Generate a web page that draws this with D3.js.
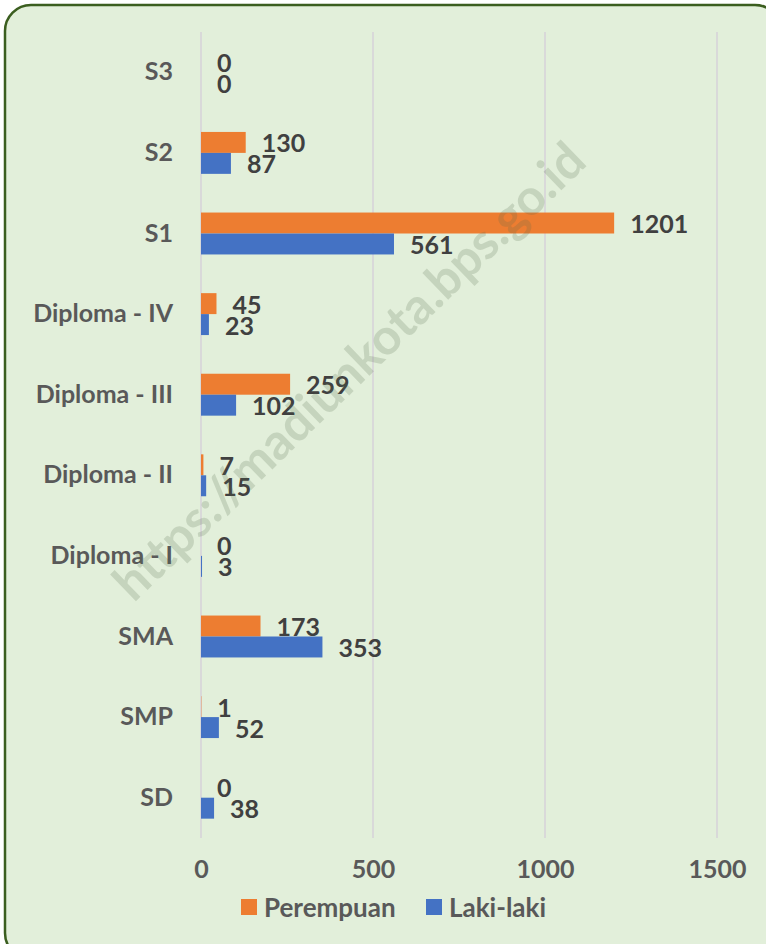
<!DOCTYPE html>
<html>
<head>
<meta charset="utf-8">
<script src="https://cdn.jsdelivr.net/npm/d3@7"></script>
<style>
  body { margin: 0; background: #ffffff; }
  svg { display: block; }
</style>
</head>
<body>
<div id="chart"></div>
<script>
var categories = ["S3", "S2", "S1", "Diploma - IV", "Diploma - III", "Diploma - II", "Diploma - I", "SMA", "SMP", "SD"];
var perempuan = [0, 130, 1201, 45, 259, 7, 0, 173, 1, 0];
var lakiLaki = [0, 87, 561, 23, 102, 15, 3, 353, 52, 38];
var seriesNames = ["Perempuan", "Laki-laki"];
var xTicks = [0, 500, 1000, 1500];

var width = 766, height = 944;
var margin = {top: 32, right: 49, bottom: 106, left: 201};
var plotWidth = width - margin.left - margin.right,
    plotHeight = height - margin.top - margin.bottom;
var colours = ["#ed7d31", "#4472c4"];
var fontFam = "Lato, 'Open Sans', sans-serif";

var svg = d3.select("#chart")
.append("svg")
.attr("width", width)
.attr("height", height);

// background panel
svg.append("rect")
.attr("x", 5)
.attr("y", 5)
.attr("width", width + 10)
.attr("height", height + 10)
.attr("rx", 26)
.attr("fill", "#e2efda")
.attr("stroke", "#3b5e1f")
.attr("stroke-width", 2.5);

var g = svg.append("g")
.attr("transform", "translate(" + margin.left + "," + margin.top + ")");

var x = d3.scaleLinear()
.domain([0, 1500])
.range([0, plotWidth]);

var y = d3.scaleBand()
.domain(categories)
.range([0, plotHeight])
.paddingInner(0.48)
.paddingOuter(0.24);

var ySub = d3.scaleBand()
.domain(seriesNames)
.range([0, y.bandwidth()]);

// gridlines
g.append("g")
.selectAll("line")
.data(xTicks)
.enter()
.append("line")
.attr("x1", function (d) { return x(d); })
.attr("x2", function (d) { return x(d); })
.attr("y1", 0)
.attr("y2", plotHeight)
.attr("stroke", "#d9d9d9")
.attr("stroke-width", 2);

var rows = categories.map(function (c, i) {
    return {cat: c, values: [perempuan[i], lakiLaki[i]]};
});
var pairs = function (d) {
    return d.values.map(function (v, j) { return {name: seriesNames[j], v: v, j: j}; });
};

var groups = g.selectAll(".cat")
.data(rows)
.enter()
.append("g")
.attr("transform", function (d) { return "translate(0," + y(d.cat) + ")"; });

groups.selectAll("rect")
.data(pairs)
.enter()
.append("rect")
.attr("x", x(0))
.attr("y", function (d) { return ySub(d.name); })
.attr("width", function (d) { return x(d.v) - x(0); })
.attr("height", ySub.bandwidth())
.attr("fill", function (d) { return colours[d.j]; });

// watermark sits over the bars
svg.append("text")
.attr("transform", "translate(348,370) rotate(-44)")
.attr("text-anchor", "middle")
.attr("dominant-baseline", "central")
.style("font-family", fontFam)
.style("font-weight", "bold")
.style("font-size", "50px")
.style("fill", "#556b4a")
.style("fill-opacity", 0.2)
.text("https://madiunkota.bps.go.id");

groups.selectAll("text")
.data(pairs)
.enter()
.append("text")
.attr("x", function (d) { return x(d.v) + 16; })
.attr("y", function (d) { return ySub(d.name) + ySub.bandwidth() / 2; })
.attr("dominant-baseline", "central")
.style("font-family", fontFam)
.style("font-weight", "bold")
.style("font-size", "25px")
.style("fill", "#404040")
.text(function (d) { return d.v; });
groups.raise();

// category axis
var yAxis = g.append("g")
.call(d3.axisLeft(y).tickSize(0).tickPadding(28));
yAxis.select(".domain").remove();
yAxis.selectAll("text")
.style("font-family", fontFam)
.style("font-weight", "bold")
.style("font-size", "25px")
.style("fill", "#595959");

// value axis
var xAxis = g.append("g")
.attr("transform", "translate(0," + plotHeight + ")")
.call(d3.axisBottom(x).tickValues(xTicks).tickFormat(d3.format("d")).tickSize(0).tickPadding(22));
xAxis.select(".domain").remove();
xAxis.selectAll("text")
.style("font-family", fontFam)
.style("font-weight", "bold")
.style("font-size", "25px")
.style("fill", "#595959");

// legend
var legend = svg.append("g")
.attr("transform", "translate(241,907)");
var legendX = [0, 185];
seriesNames.forEach(function (name, i) {
    var item = legend.append("g")
    .attr("transform", "translate(" + legendX[i] + ",0)");
    item.append("rect")
    .attr("x", 0)
    .attr("y", -8)
    .attr("width", 16)
    .attr("height", 16)
    .attr("fill", colours[i]);
    item.append("text")
    .attr("x", 23)
    .attr("y", 0)
    .attr("dominant-baseline", "central")
    .style("font-family", fontFam)
    .style("font-weight", "bold")
    .style("font-size", "26px")
    .style("fill", "#595959")
    .text(name);
});
</script>
</body>
</html>
